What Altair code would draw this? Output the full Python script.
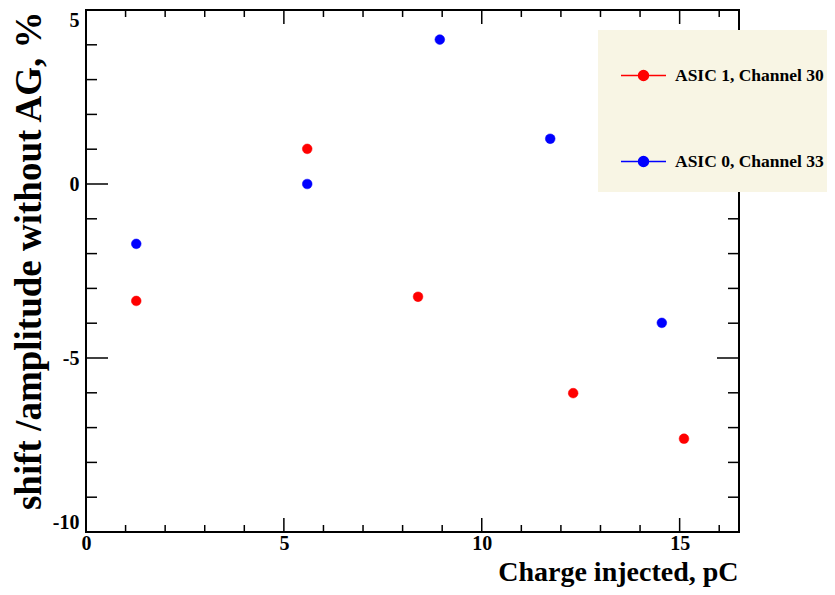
import altair as alt
import pandas as pd

# ---------------- data ----------------
series_names = ["ASIC 1, Channel 30", "ASIC 0, Channel 33"]
series_colors = ["#ff0000", "#0000ff"]

asic1_charge = [1.27, 5.59, 8.39, 12.31, 15.11]
asic1_shift = [-3.36, 1.01, -3.24, -6.01, -7.32]

asic0_charge = [1.27, 5.59, 8.94, 11.73, 14.55]
asic0_shift = [-1.72, 0.0, 4.15, 1.30, -3.99]

x_major = [0, 5, 10, 15]
x_minor = [1, 2, 3, 4, 6, 7, 8, 9, 11, 12, 13, 14, 16]
y_major = [-10, -5, 0, 5]
y_minor = [-9, -8, -7, -6, -4, -3, -2, -1, 1, 2, 3, 4]

x_title = "Charge injected, pC"
y_title = "shift /amplitude without AG, %"

# ---------------- layout ----------------
W, H = 653, 522
FONT = "Liberation Serif"

df = pd.DataFrame({
    "charge": asic1_charge + asic0_charge,
    "shift": asic1_shift + asic0_shift,
    "series": [series_names[0]] * len(asic1_charge) + [series_names[1]] * len(asic0_charge),
})

xscale = alt.Scale(domain=[0, 16.5], nice=False, zero=False)
yscale = alt.Scale(domain=[-10, 5], nice=False, zero=False)
cscale = alt.Scale(domain=series_names, range=series_colors)

xaxis = alt.Axis(values=x_major, ticks=False, tickSize=0, domain=False, grid=False,
                 labelFont=FONT, labelFontWeight="bold", labelFontSize=20,
                 labelColor="black", labelPadding=1.5, labelExpr="'' + datum.value",
                 labelFlush=False,
                 titleFont=FONT, titleFontWeight="bold", titleFontSize=28,
                 titleColor="black", titleAnchor="end", titleAlign="right",
                 titleBaseline="alphabetic", titleX=W - 1, titleY=48.5)
yaxis = alt.Axis(values=y_major, ticks=False, tickSize=0, domain=False, grid=False,
                 labelFont=FONT, labelFontWeight="bold", labelFontSize=20,
                 labelColor="black", labelPadding=7, labelExpr="'' + datum.value",
                 labelFlush=True,
                 titleFont=FONT, titleFontWeight="bold", titleFontSize=37,
                 titleColor="black", titleAngle=-90, titleAlign="right",
                 titleBaseline="alphabetic", titleX=-46, titleY=1)

legend_symbol = "M-1,0H1M-0.22,0A0.22,0.22 0 1,1 0.22,0A0.22,0.22 0 1,1 -0.22,0Z"

leg = alt.Legend(
    title=None, orient="none", legendX=512, legendY=20,
    symbolType=legend_symbol, symbolSize=2025, symbolStrokeWidth=1.5,
    symbolOpacity=1,
    labelFont=FONT, labelFontWeight="bold", labelFontSize=17.5, labelColor="black",
    labelOffset=8, rowPadding=54, padding=22, fillColor="#f8f5e4",
    labelLimit=300,
)

points = alt.Chart(df).mark_point(filled=True, size=95, opacity=1, strokeWidth=0.5).encode(
    x=alt.X("charge:Q", scale=xscale, title=x_title, axis=xaxis),
    y=alt.Y("shift:Q", scale=yscale, title=y_title, axis=yaxis),
    color=alt.Color("series:N", scale=cscale, legend=leg),
    stroke=alt.Stroke("series:N", scale=cscale, legend=leg),
)


def xticks(vals, length, top):
    d = pd.DataFrame({"v": vals})
    if top:
        yy, yy2 = alt.value(0), alt.value(length)
    else:
        yy, yy2 = alt.value(H), alt.value(H - length)
    return alt.Chart(d).mark_rule(color="black", strokeWidth=1.5).encode(
        x=alt.X("v:Q", scale=xscale, title=x_title, axis=xaxis), y=yy, y2=yy2)


def yticks(vals, length, right):
    d = pd.DataFrame({"v": vals})
    if right:
        xx, xx2 = alt.value(W), alt.value(W - length)
    else:
        xx, xx2 = alt.value(0), alt.value(length)
    return alt.Chart(d).mark_rule(color="black", strokeWidth=1.5).encode(
        y=alt.Y("v:Q", scale=yscale, title=y_title, axis=yaxis), x=xx, x2=xx2)


ticks = [
    xticks(x_major, 14, False), xticks(x_minor, 7, False),
    xticks(x_major, 14, True), xticks(x_minor, 7, True),
    yticks(y_major, 22, False), yticks(y_minor, 11, False),
    yticks(y_major, 22, True), yticks(y_minor, 11, True),
]

chart = alt.layer(points, *ticks).properties(
    width=W, height=H,
    autosize=alt.AutoSizeParams(type="none"),
    padding={"left": 78, "top": 2, "right": 88, "bottom": 55},
).configure(background="white").configure_view(stroke="black", strokeWidth=2)

chart.save("out.html", embed_options={"renderer": "svg", "actions": False})
